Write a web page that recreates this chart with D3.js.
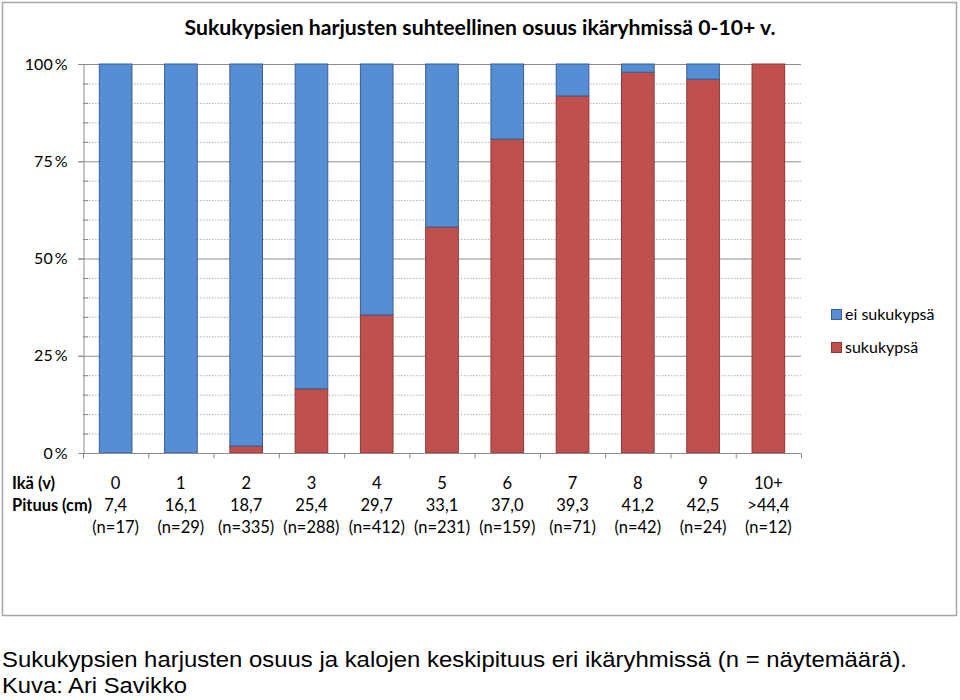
<!DOCTYPE html>
<html><head><meta charset="utf-8">
<script src="https://cdn.jsdelivr.net/npm/d3@7"></script>
<style>body{margin:0;background:#fff}svg{display:block}text{font-family:Lato,"Open Sans",sans-serif}</style>
</head><body><svg id="c" width="960" height="700"></svg>
<script>
const ages = ["0","1","2","3","4","5","6","7","8","9","10+"];
const lengths = ["7,4","16,1","18,7","25,4","29,7","33,1","37,0","39,3","41,2","42,5",">44,4"];
const counts = ["(n=17)","(n=29)","(n=335)","(n=288)","(n=412)","(n=231)","(n=159)","(n=71)","(n=42)","(n=24)","(n=12)"];
const mature = [0,0,1.8,16.5,35.5,58.1,80.7,91.8,97.9,96.1,100];   // sukukypsä %
const immature = mature.map(v => 100 - v);                          // ei sukukypsä %
const seriesNames = ["ei sukukypsä","sukukypsä"];
const yTicks = [0,25,50,75,100];
const colors = {fill:["#558ED5","#C0504D"], stroke:["#3A5F8F","#8C3836"]};

const svg = d3.select("#c");
svg.append("rect").attr("x",2.5).attr("y",2.5).attr("width",954).attr("height",613)
  .attr("fill","#fff").attr("stroke","#a6a6a6").attr("stroke-width",1.5);

const x = d3.scaleBand().domain(ages).range([83,801]).paddingInner(0.5).paddingOuter(0.25);
const xb = d3.scaleBand().domain(ages).range([83,801]);
const y = d3.scaleLinear().domain([0,100]).range([453,64]);

// minor dotted gridlines
const minor = d3.range(5,100,5).filter(v => v%25!==0);
svg.append("g").selectAll("line").data(minor).join("line")
  .attr("x1",83).attr("x2",801).attr("y1",d=>y(d)+.5).attr("y2",d=>y(d)+.5)
  .attr("stroke","#b0b0b0").attr("stroke-dasharray","1.5,1.5");
svg.append("g").selectAll("line").data(minor).join("line")
  .attr("x1",83).attr("x2",88).attr("y1",d=>y(d)+.5).attr("y2",d=>y(d)+.5)
  .attr("stroke","#888");
// major gridlines
svg.append("g").selectAll("line").data(yTicks.filter(d=>d>0)).join("line")
  .attr("x1",78).attr("x2",801).attr("y1",d=>y(d)+.5).attr("y2",d=>y(d)+.5)
  .attr("stroke","#8c8c8c").attr("stroke-width",1);

// y axis
const yAxis = svg.append("g").attr("transform","translate(83.5,0)")
  .call(d3.axisLeft(y).tickValues(yTicks).tickFormat(d=>d+"\u2009%").tickSize(5).tickPadding(11));
yAxis.select(".domain").attr("stroke","#8c8c8c");
yAxis.selectAll(".tick line").attr("stroke","#8c8c8c");
yAxis.selectAll("text").attr("font-size",16).attr("fill","#000").style("font-family","Lato");

// bars
const stackData = ages.map((a,i)=>({age:a, ei:immature[i], suku:mature[i]}));
const stack = d3.stack().keys(["suku","ei"])(stackData);
const keyIdx = {suku:1, ei:0};
svg.append("g").selectAll("g").data(stack).join("g")
  .attr("fill",d=>colors.fill[keyIdx[d.key]]).attr("stroke",d=>colors.stroke[keyIdx[d.key]])
  .selectAll("rect").data(d=>d.filter(p=>p[1]-p[0]>0)).join("rect")
  .attr("x",d=>x(d.data.age)).attr("width",x.bandwidth())
  .attr("y",d=>y(d[1])).attr("height",d=>y(d[0])-y(d[1])).attr("stroke-width",1);

// x axis
const xAxis = svg.append("g").attr("transform","translate(0,453.5)");
xAxis.append("line").attr("x1",83).attr("x2",801).attr("stroke","#8c8c8c");
xAxis.selectAll("line.t").data(ages.concat(["end"])).join("line").attr("class","t")
  .attr("x1",(d,i)=> i<ages.length ? xb(d)+.5 : 801.5).attr("x2",(d,i)=> i<ages.length ? xb(d)+.5 : 801.5)
  .attr("y1",0).attr("y2",5).attr("stroke","#8c8c8c");

const rows = [ages, lengths, counts];
const rowY = [489, 511, 533];
rows.forEach((r,ri)=>{
  svg.append("g").selectAll("text").data(r).join("text")
    .attr("x",(d,i)=>xb(ages[i])+xb.bandwidth()/2).attr("y",rowY[ri])
    .attr("text-anchor","middle").attr("font-size",16.5).attr("fill","#000").text(d=>d);
});
svg.append("text").attr("x",12).attr("y",489).attr("font-size",16.5).attr("font-weight","bold").text("Ikä (v)");
svg.append("text").attr("x",12).attr("y",511).attr("font-size",16.5).attr("font-weight","bold")
  .attr("textLength",80).attr("lengthAdjust","spacingAndGlyphs").text("Pituus (cm)");

// title
svg.append("text").attr("x",480).attr("y",35).attr("text-anchor","middle")
  .attr("font-size",20.5).attr("font-weight","bold").attr("textLength",591).attr("lengthAdjust","spacingAndGlyphs")
  .text("Sukukypsien  harjusten  suhteellinen  osuus  ikäryhmissä  0-10+ v.");

// legend
const lg = svg.append("g");
seriesNames.forEach((n,i)=>{
  const ly = 309 + i*33;
  lg.append("rect").attr("x",831.5).attr("y",ly+.5).attr("width",10).attr("height",10)
    .attr("fill",colors.fill[i]).attr("stroke",colors.stroke[i]);
  lg.append("text").attr("x",845).attr("y",ly+11).attr("font-size",16).text(n);
});

// caption
svg.append("text").attr("x",2).attr("y",667).attr("font-size",22.5)
  .style("font-family","'Liberation Sans',Arial,sans-serif")
  .attr("textLength",905).attr("lengthAdjust","spacingAndGlyphs")
  .text("Sukukypsien harjusten osuus ja kalojen keskipituus eri ikäryhmissä (n = näytemäärä).");
svg.append("text").attr("x",2).attr("y",693).attr("font-size",22)
  .style("font-family","'Liberation Sans',Arial,sans-serif")
  .attr("textLength",185).attr("lengthAdjust","spacingAndGlyphs")
  .text("Kuva: Ari Savikko");
</script></body></html>
